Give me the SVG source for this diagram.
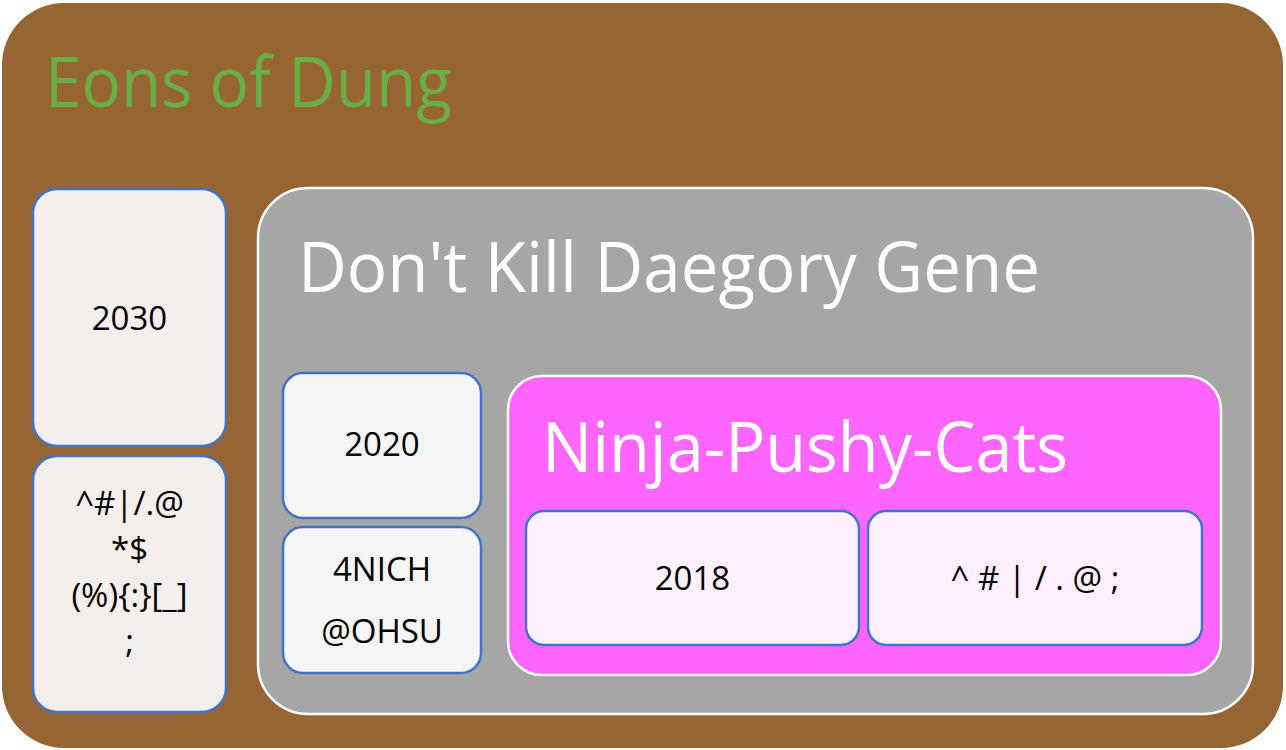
<svg xmlns="http://www.w3.org/2000/svg" width="1286" height="750" viewBox="0 0 1286 750">
<style>
.title{font-family:"Open Sans","Noto Sans",sans-serif;font-size:70px}
.lbl{font-family:"Open Sans","Noto Sans",sans-serif;font-size:33px;fill:#000;text-anchor:middle;dominant-baseline:central}
.leaf{stroke:#4472C4;stroke-width:2.5}
.cont{stroke:#FFFFFF;stroke-width:2.5}
</style>
<rect width="1286" height="750" fill="#FFFFFF"/>
<g id="eons">
<rect x="2" y="3" width="1281" height="745" rx="62" fill="#976533"/>
<text class="title" x="45" y="107" fill="#6AAF45" textLength="407" lengthAdjust="spacingAndGlyphs">Eons of Dung</text>
</g>
<g id="n2030">
<rect class="leaf" x="33" y="189" width="193" height="257" rx="24" fill="#F4EFEC"/>
<text class="lbl" x="129.5" y="317">2030</text>
</g>
<g id="nsym1">
<rect class="leaf" x="33" y="456" width="193" height="256" rx="24" fill="#F4EFEC"/>
<text class="lbl" x="129.5" y="502">^#|/.@</text>
<text class="lbl" x="129.5" y="548">*$</text>
<text class="lbl" x="129.5" y="594">(%){:}[_]</text>
<text class="lbl" x="129.5" y="640">;</text>
</g>
<g id="daegory">
<rect class="cont" x="258" y="188" width="995" height="526" rx="50" fill="#A6A6A6"/>
<text class="title" x="298" y="292" fill="#FFFFFF" textLength="742" lengthAdjust="spacingAndGlyphs">Don't Kill Daegory Gene</text>
</g>
<g id="n2020">
<rect class="leaf" x="283" y="373" width="198" height="145" rx="20" fill="#F5F5F5"/>
<text class="lbl" x="382" y="443">2020</text>
</g>
<g id="n4nich">
<rect class="leaf" x="283" y="527" width="198" height="146" rx="20" fill="#F5F5F5"/>
<text class="lbl" x="382" y="568">4NICH</text>
<text class="lbl" x="382" y="630">@OHSU</text>
</g>
<g id="ninja">
<rect class="cont" x="508" y="376" width="713" height="299" rx="34" fill="#FF66FF"/>
<text class="title" x="542" y="472" fill="#FFFFFF" textLength="526" lengthAdjust="spacingAndGlyphs">Ninja-Pushy-Cats</text>
</g>
<g id="n2018">
<rect class="leaf" x="526" y="511" width="333" height="134" rx="18" fill="#FFF0FF"/>
<text class="lbl" x="692.5" y="577">2018</text>
</g>
<g id="nsym2">
<rect class="leaf" x="868" y="511" width="334" height="134" rx="18" fill="#FFF0FF"/>
<text class="lbl" x="1035" y="577">^ # | / . @ ;</text>
</g>
<g id="connectors"/>
</svg>
